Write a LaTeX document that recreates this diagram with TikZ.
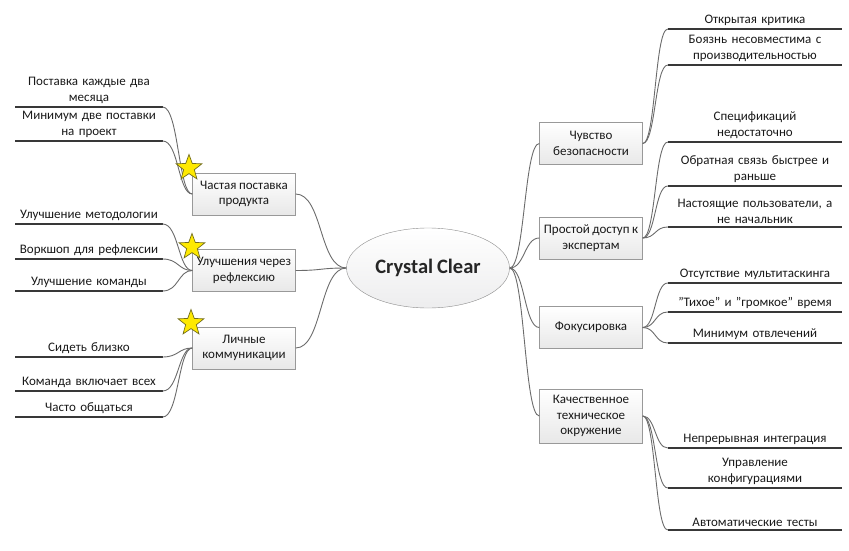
\documentclass[tikz,border=0pt]{standalone}
\usepackage{fontspec}
\setmainfont{Carlito}[WordSpace=0.85]
\usetikzlibrary{shapes.geometric}
\begin{document}
\begin{tikzpicture}[x=1pt,y=-1pt,
  txt/.style={font=\fontsize{13}{15.5}\selectfont, text=black!90},
  topic/.style={txt, draw=black!40, top color=white, bottom color=black!9, minimum width=103, minimum height=42, inner sep=1, align=center},
  leafl/.style={txt, anchor=south, text width=147, align=center, inner xsep=0, inner ysep=3.5},
  leafr/.style={txt, anchor=south, text width=174, align=center, inner xsep=0, inner ysep=3.5},
  bar/.style={line width=2.8, draw=black!78},
  conn/.style={draw=black!58, line width=0.9},
  starry/.style={star, star points=5, star point ratio=2.4, minimum size=27, inner sep=0, fill=yellow!92!orange, draw=olive!75!black, line width=0.7}
]
\useasboundingbox (0,0) rectangle (849,551);

% centre
\node[ellipse, draw=black!45, top color=white, bottom color=blue!6!black!7, minimum width=163, minimum height=80, font=\fontsize{20.5}{24}\selectfont\bfseries, text=black!85] (c) at (428,268) {Crystal Clear};

% left topics
\node[topic] (b1) at (244,194) {Частая поставка\\продукта};
\node[topic] (b2) at (244,270.5) {Улучшения через\\рефлексию};
\node[topic] (b3) at (244,348) {Личные\\коммуникации};

% right topics
\node[topic] (r1) at (591,143.5) {Чувство\\безопасности};
\node[topic] (r2) at (591,238) {Простой доступ к\\экспертам};
\node[topic] (r3) at (591,327.5) {Фокусировка};
\node[topic, minimum height=54] (r4) at (591,416) {Качественное\\техническое\\окружение};

% left leaves
\node[leafl] (l11) at (89,107) {Поставка каждые два\\месяца};
\node[leafl] (l12) at (89,141) {Минимум две поставки\\на проект};
\node[leafl] (l21) at (89,224) {Улучшение методологии};
\node[leafl] (l22) at (89,259) {Воркшоп для рефлексии};
\node[leafl] (l23) at (89,291) {Улучшение команды};
\node[leafl] (l31) at (89,357) {Сидеть близко};
\node[leafl] (l32) at (89,391) {Команда включает всех};
\node[leafl] (l33) at (89,417) {Часто общаться};

% right leaves
\node[leafr] (q11) at (755,29) {Открытая критика};
\node[leafr] (q12) at (755,65) {Боязнь несовместима с\\производительностью};
\node[leafr] (q21) at (755,142) {Спецификаций\\недостаточно};
\node[leafr] (q22) at (755,186) {Обратная связь быстрее и\\раньше};
\node[leafr] (q23) at (755,227) {Настоящие пользователи, а\\не начальник};
\node[leafr] (q31) at (755,283) {Отсутствие мультитаскинга};
\node[leafr] (q32) at (755,312) {"Тихое" и "громкое" время};
\node[leafr] (q33) at (755,343) {Минимум отвлечений};
\node[leafr] (q41) at (755,448) {Непрерывная интеграция};
\node[leafr] (q42) at (755,488) {Управление\\конфигурациями};
\node[leafr] (q43) at (755,530) {Автоматические тесты};

% underline bars
\foreach \n in {l11,l12,l21,l22,l23,l31,l32,l33,q11,q12,q21,q22,q23,q31,q32,q33,q41,q42,q43}
  \draw[bar] (\n.south west) -- (\n.south east);

% centre connectors
\foreach \b in {b1,b2,b3}
  \draw[conn] (c.west) .. controls +(-27,0) and +(27,0) .. (\b.east);
\foreach \b in {r1,r2,r3,r4}
  \draw[conn] (c.east) .. controls +(15,0) and +(-15,0) .. (\b.west);

% left leaf connectors
\foreach \l/\b in {l11/b1,l12/b1,l21/b2,l22/b2,l23/b2,l31/b3,l32/b3,l33/b3}
  \draw[conn] (\l.south east) .. controls +(16,0) and +(-14,0) .. (\b.west);

% right leaf connectors
\foreach \b/\l in {r1/q11,r1/q12,r2/q21,r2/q22,r2/q23,r3/q31,r3/q32,r3/q33,r4/q41,r4/q42,r4/q43}
  \draw[conn] (\b.east) .. controls +(13,0) and +(-13,0) .. (\l.south west);

% stars
\node[starry] (s1) at (189,168) {};
\node[starry] (s2) at (192,247) {};
\node[starry] (s3) at (191,323) {};
\end{tikzpicture}
\end{document}
